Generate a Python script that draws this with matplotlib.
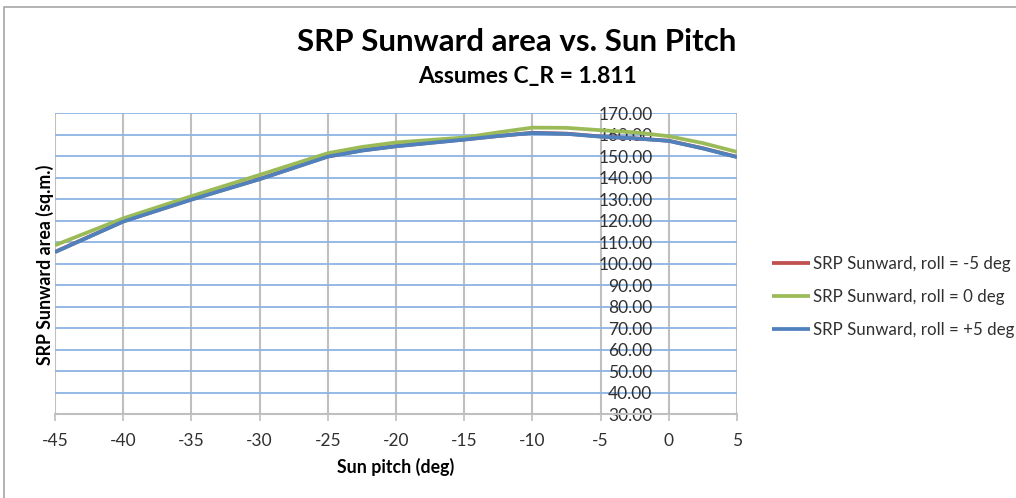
import matplotlib
matplotlib.use("Agg")
import matplotlib.pyplot as plt
from matplotlib.patches import Rectangle

# ---- data ----
pitch = [-45, -40, -35, -30, -25, -22.5, -20, -15, -12.5, -10, -7.5, -5, -2.5, 0, 2.5, 5]
roll_m5 = [105.4, 119.6, 129.8, 139.3, 149.8, 152.6, 154.6, 157.7, 159.3, 160.8, 160.4, 159.1, 158.2, 157.1, 153.6, 149.6]
roll_0 = [108.5, 121.0, 131.3, 141.2, 151.3, 154.2, 156.3, 158.6, 161.0, 163.2, 163.1, 162.0, 161.0, 159.2, 156.0, 151.9]
roll_p5 = [105.3, 119.5, 129.7, 139.2, 149.7, 152.5, 154.5, 157.6, 159.3, 160.7, 160.3, 159.0, 158.2, 157.0, 153.5, 149.5]
series_labels = ["SRP Sunward, roll = -5 deg", "SRP Sunward, roll = 0 deg", "SRP Sunward, roll = +5 deg"]
x_ticks = [-45, -40, -35, -30, -25, -20, -15, -10, -5, 0, 5]
y_ticks = [30, 40, 50, 60, 70, 80, 90, 100, 110, 120, 130, 140, 150, 160, 170]
title = "SRP Sunward area vs. Sun Pitch"
subtitle = "Assumes C_R = 1.811"
xlabel = "Sun pitch (deg)"
ylabel = "SRP Sunward area (sq.m.)"

plt.rcParams['font.family'] = ['Lato', 'DejaVu Sans']
plt.rcParams['axes.unicode_minus'] = False

W, H = 1016, 498
fig = plt.figure(figsize=(W / 100, H / 100), dpi=100)
ax = fig.add_axes([55 / W, (H - 414) / H, (737 - 55) / W, (414 - 113) / H])

colors = ["#C0504D", "#9BBB59", "#4F81BD"]
for vals, lab, c in zip([roll_m5, roll_0, roll_p5], series_labels, colors):
    ax.plot(pitch, vals, color=c, lw=2.7, label=lab, solid_capstyle='butt')

ax.set_xlim(-45, 5)
ax.set_ylim(30, 170)
ax.set_xticks(x_ticks)
ax.set_yticks(y_ticks)
ax.set_yticklabels([f"{v:.2f}" for v in y_ticks])
ax.set_axisbelow(True)

# gridlines
ax.yaxis.grid(True, color="#8EB4E3", lw=1.3)
ax.xaxis.grid(True, color="#BFBFBF", lw=1.5)

for s in ['top', 'right']:
    ax.spines[s].set_visible(False)
ax.spines['bottom'].set_color("#BFBFBF")
ax.spines['bottom'].set_linewidth(1.5)
ax.spines['left'].set_position(('data', -1.0))
ax.spines['left'].set_visible(False)

ax.tick_params(axis='y', length=0, pad=2, labelsize=12.5, labelcolor="#303030")
ax.tick_params(axis='x', length=5, width=1.2, color="#BFBFBF", pad=9, labelsize=12.5, labelcolor="#303030")

# titles
fig.text(517 / W, 1 - 42 / H, title, ha='center', va='center', fontsize=22.5, fontweight='bold', color='black')
fig.text(527 / W, 1 - 77 / H, subtitle, ha='center', va='center', fontsize=16.5, fontweight='bold', color='black')
fig.text(396 / W, 1 - 467 / H, xlabel, ha='center', va='center', fontsize=12.8, fontweight='bold', color='black')
fig.text(45 / W, 1 - 265 / H, ylabel, ha='center', va='center', rotation=90, fontsize=12.8, fontweight='bold', color='black')

# legend
leg = fig.legend(loc='center left', bbox_to_anchor=(757 / W, 1 - 297 / H), frameon=False,
                 fontsize=12.2, handlelength=2.2, handletextpad=0.2, labelspacing=1.0,
                 labelcolor="#303030")

# outer chart border
fig.patches.append(Rectangle((4 / W, -0.05), 1.1, 1 - 7 / H + 0.05, transform=fig.transFigure,
                             fill=False, edgecolor="#A6A6A6", lw=1.2))

fig.savefig("out.png", dpi=100)
